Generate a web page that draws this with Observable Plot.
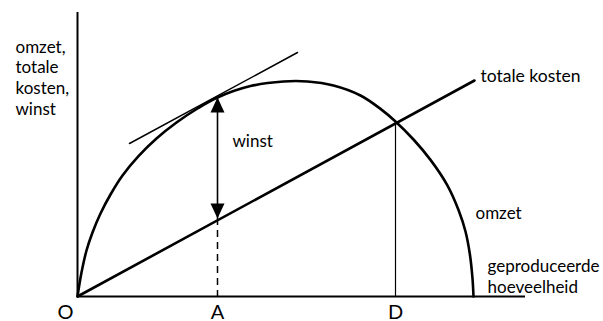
<!DOCTYPE html>
<html>
<head>
<meta charset="utf-8">
<script src="https://cdn.jsdelivr.net/npm/d3@7"></script>
<script src="https://cdn.jsdelivr.net/npm/@observablehq/plot@0.6"></script>
<style>
  html, body { margin: 0; padding: 0; background: #fff; }
  svg { display: block; }
</style>
</head>
<body>
<div id="chart"></div>
<script>
// Omzet (revenue) curve
const omzetQty   = [0, 1, 2.25, 3.75, 5.75, 8.25, 11.25, 15.25, 19.75, 24.75, 30, 35, 43.25, 51.5, 57.5, 64, 70.75, 75.75, 79.5, 84, 88.25, 92.4, 95.3, 97, 98.1, 98.75, 99];
const omzetValue = [0, 6, 11.5, 16, 20.75, 25.5, 30.25, 35.1, 39.5, 43.5, 47, 49.75, 52.6, 53.75, 53.75, 52.75, 50.25, 46.9, 43.75, 39.25, 34.15, 27.9, 21.5, 16.25, 10.5, 4.5, 0];
// Totale kosten (straight line)
const costQty   = [0, 99.25];
const costValue = [0, 54];
// Tangent parallel to total costs at A
const tangentQty   = [13, 55];
const tangentValue = [38.25, 61];
// Marked quantities
const pointLabels = ["O", "A", "D"];
const pointQty    = [0, 35, 79.5];
const aOmzet = 49.75, aCost = 19.5;   // values at A
const dValue = 43.75;                 // break-even value at D
const axisMaxQty = 112, axisMaxValue = 71;

const omzet = omzetQty.map((q, i) => ({q, v: omzetValue[i]}));
const cost = costQty.map((q, i) => ({q, v: costValue[i]}));
const tangent = tangentQty.map((q, i) => ({q, v: tangentValue[i]}));
const ticks = pointLabels.map((label, i) => ({label, q: pointQty[i]}));

const headUp = {draw(ctx) { ctx.moveTo(0, 0); ctx.lineTo(-7, 15); ctx.lineTo(7, 15); ctx.closePath(); }};
const headDown = {draw(ctx) { ctx.moveTo(0, 0); ctx.lineTo(-7, -15); ctx.lineTo(7, -15); ctx.closePath(); }};

const font = "Lato, 'Noto Sans', sans-serif";

const chart = Plot.plot({
  width: 603,
  height: 321,
  marginLeft: 77,
  marginRight: 78,
  marginTop: 12,
  marginBottom: 25,
  style: {background: "#fff", fontFamily: font, color: "#000"},
  x: {domain: [0, axisMaxQty], axis: null},
  y: {domain: [0, axisMaxValue], axis: null},
  marks: [
    // axes
    Plot.ruleX([0], {y1: 0, y2: axisMaxValue, stroke: "#000", strokeWidth: 2}),
    Plot.ruleY([0], {x1: 0, x2: axisMaxQty, stroke: "#000", strokeWidth: 2}),
    // curves
    Plot.line(omzet, {x: "q", y: "v", curve: "catmull-rom", stroke: "#000", strokeWidth: 2.6}),
    Plot.line(cost, {x: "q", y: "v", stroke: "#000", strokeWidth: 2.6}),
    Plot.line(tangent, {x: "q", y: "v", stroke: "#000", strokeWidth: 1.5}),
    // winst arrow at A
    Plot.ruleX([pointQty[1]], {y1: aOmzet, y2: aCost, stroke: "#000", strokeWidth: 1.6}),
    Plot.dot([0], {x: () => pointQty[1], y: () => aOmzet, symbol: headUp, r: 7, fill: "#000", stroke: null}),
    Plot.dot([0], {x: () => pointQty[1], y: () => aCost, symbol: headDown, r: 7, fill: "#000", stroke: null}),
    Plot.ruleX([pointQty[1]], {y1: aCost, y2: 0, stroke: "#000", strokeWidth: 1.5, strokeDasharray: "7,5"}),
    // break-even at D
    Plot.ruleX([pointQty[2]], {y1: dValue, y2: 0, stroke: "#000", strokeWidth: 1.2}),
    // labels
    Plot.text(["omzet,\ntotale\nkosten,\nwinst"], {frameAnchor: "top-left", dx: -62, dy: 102, textAnchor: "start", lineAnchor: "bottom", lineHeight: 1.21, fontSize: 17, fill: "#000"}),
    Plot.text(["winst"], {x: () => pointQty[1], y: () => (aOmzet + aCost) / 2, dx: 15, dy: -11, textAnchor: "start", lineAnchor: "bottom", fontSize: 17, fill: "#000"}),
    Plot.text(["totale kosten"], {x: () => costQty[1], y: () => costValue[1], dx: 6, dy: 1, textAnchor: "start", lineAnchor: "bottom", fontSize: 17.5, fill: "#000"}),
    Plot.text(["omzet"], {x: () => omzetQty[omzetQty.length - 1], y: () => 0, dx: 2, dy: -78, textAnchor: "start", lineAnchor: "bottom", fontSize: 17, fill: "#000"}),
    Plot.text(["geproduceerde\nhoeveelheid"], {x: () => omzetQty[omzetQty.length - 1], y: () => 0, dx: 14, dy: -4, textAnchor: "start", lineAnchor: "bottom", lineHeight: 1.18, fontSize: 17, fill: "#000"}),
    // O, A, D labels
    Plot.text(ticks.slice(0, 1), {x: "q", frameAnchor: "bottom", text: "label", dx: -12, dy: 22, lineAnchor: "bottom", fontSize: 20, fill: "#000"}),
    Plot.text(ticks.slice(1), {x: "q", frameAnchor: "bottom", text: "label", dy: 22, lineAnchor: "bottom", fontSize: 20, fill: "#000"})
  ]
});
document.getElementById("chart").appendChild(chart);
</script>
</body>
</html>
